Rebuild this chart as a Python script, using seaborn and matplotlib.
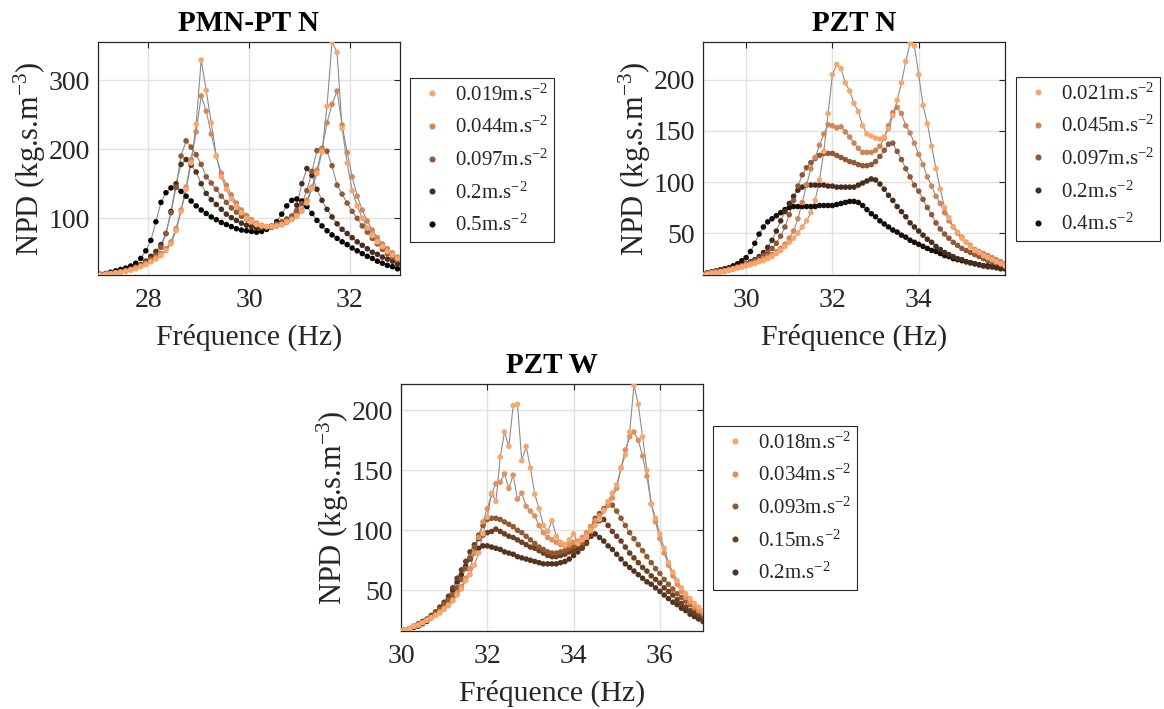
from __future__ import annotations

import matplotlib

matplotlib.use("Agg")
import matplotlib.pyplot as plt
import pandas as pd
import seaborn as sns

# ---- PMN-PT N ----------------------------------------------------------
FREQ_PMN_PT_N = [
    26.95, 27.05, 27.15, 27.25, 27.35, 27.45, 27.55, 27.65, 27.75, 27.85,
    27.95, 28.05, 28.15, 28.25, 28.35, 28.45, 28.55, 28.65, 28.75, 28.85,
    28.95, 29.05, 29.15, 29.25, 29.35, 29.45, 29.55, 29.65, 29.75, 29.85,
    29.95, 30.05, 30.15, 30.25, 30.35, 30.45, 30.55, 30.65, 30.75, 30.85,
    30.95, 31.05, 31.15, 31.25, 31.35, 31.45, 31.55, 31.65, 31.75, 31.85,
    31.95, 32.05, 32.15, 32.25, 32.35, 32.45, 32.55, 32.65, 32.75, 32.85,
    32.95, 33.05,
]
PMN_0019 = [
    17, 18, 19, 20, 21, 22, 23, 25, 27, 30,
    33, 37, 41, 46, 53, 63, 82, 110, 142, 180,
    236, 329, 285, 238, 190, 160, 142, 128, 117, 108,
    100, 95, 91, 89, 88, 88, 89, 91, 95, 98,
    103, 110, 122, 143, 165, 196, 262, 355, 340, 230,
    180, 140, 118, 100, 86, 75, 66, 59, 52, 47,
    42, 38,
]
PMN_0044 = [
    17, 18, 19, 20, 21, 22, 24, 26, 28, 31,
    34, 38, 43, 49, 56, 66, 85, 112, 145, 185,
    225, 277, 255, 222, 190, 165, 148, 134, 122, 112,
    104, 98, 93, 90, 88, 88, 89, 91, 94, 99,
    104, 112, 126, 145, 170, 200, 238, 265, 284, 235,
    195, 160, 132, 112, 96, 83, 72, 63, 56, 50,
    44, 39,
]
PMN_0097 = [
    18, 18, 19, 20, 21, 23, 24, 26, 29, 32,
    36, 41, 47, 58, 78, 108, 145, 190, 212, 203,
    192, 178, 160, 151, 142, 132, 123, 115, 109, 103,
    99, 95, 91, 88, 88, 89, 92, 95, 99, 103,
    111, 121, 140, 168, 198, 201, 197, 176, 148, 135,
    122, 110, 100, 89, 80, 71, 63, 55, 49, 44,
    40, 36,
]
PMN_02 = [
    18, 18, 19, 20, 22, 23, 25, 27, 30, 33,
    38, 45, 52, 62, 78, 110, 150, 178, 185, 177,
    167, 150, 136, 127, 120, 113, 106, 101, 97, 93,
    90, 88, 86, 86, 86, 87, 89, 91, 95, 103,
    119, 150, 172, 162, 142, 126, 113, 102, 92, 84,
    78, 72, 66, 61, 56, 51, 48, 44, 41, 38,
    34, 31,
]
PMN_05 = [
    18, 19, 20, 22, 24, 26, 28, 31, 35, 42,
    53, 68, 95, 123, 137, 144, 145, 139, 132, 125,
    118, 112, 107, 102, 98, 94, 91, 88, 85, 83,
    82, 81, 80, 81, 84, 88, 95, 106, 118, 126,
    128, 125, 117, 107, 97, 89, 82, 76, 71, 66,
    62, 57, 53, 49, 45, 42, 38, 35, 32, 30,
    27, 25,
]
LABELS_PMN_PT_N = ["0.019m.s", "0.044m.s", "0.097m.s", "0.2m.s", "0.5m.s"]

# ---- PZT N -------------------------------------------------------------
FREQ_PZT_N = [
    29.0, 29.1, 29.2, 29.3, 29.4, 29.5, 29.6, 29.7, 29.8, 29.9,
    30.0, 30.1, 30.2, 30.3, 30.4, 30.5, 30.6, 30.7, 30.8, 30.9,
    31.0, 31.1, 31.2, 31.3, 31.4, 31.5, 31.6, 31.7, 31.8, 31.9,
    32.0, 32.1, 32.2, 32.3, 32.4, 32.5, 32.6, 32.7, 32.8, 32.9,
    33.0, 33.1, 33.2, 33.3, 33.4, 33.5, 33.6, 33.7, 33.8, 33.9,
    34.0, 34.1, 34.2, 34.3, 34.4, 34.5, 34.6, 34.7, 34.8, 34.9,
    35.0, 35.1, 35.2, 35.3, 35.4, 35.5, 35.6, 35.7, 35.8, 35.9,
    36.0,
]
PZTN_0021 = [
    9, 10, 11, 11, 12, 13, 14, 15, 16, 17,
    18, 19, 20, 22, 23, 25, 27, 30, 33, 37,
    41, 45, 50, 56, 62, 70, 82, 102, 130, 167,
    205, 215, 211, 197, 189, 177, 169, 155, 147, 145,
    143, 142, 144, 152, 165, 180, 197, 218, 236, 233,
    205, 175, 157, 135, 113, 93, 75, 65, 56, 51,
    45, 41, 37, 33, 31, 28, 26, 24, 22, 20,
    18,
]
PZTN_0045 = [
    9, 10, 11, 12, 12, 13, 14, 15, 16, 17,
    19, 20, 21, 23, 25, 27, 29, 32, 35, 39,
    45, 52, 64, 80, 97, 113, 124, 136, 147, 156,
    155, 153, 154, 149, 144, 138, 133, 129, 129, 129,
    131, 135, 143, 155, 168, 173, 167, 155, 148, 138,
    127, 117, 105, 96, 86, 79, 70, 62, 56, 50,
    46, 41, 38, 34, 32, 30, 28, 26, 24, 22,
    20,
]
PZTN_0097 = [
    9, 10, 11, 12, 13, 13, 14, 15, 17, 18,
    20, 21, 23, 25, 28, 31, 35, 40, 47, 56,
    68, 82, 96, 107, 114, 119, 123, 126, 128, 128,
    128, 126, 124, 122, 120, 119, 117, 116, 116, 117,
    120, 125, 131, 137, 138, 130, 122, 113, 105, 97,
    91, 83, 75, 68, 60, 54, 49, 45, 41, 38,
    35, 33, 31, 29, 27, 25, 23, 22, 21, 20,
    19,
]
PZTN_02 = [
    9, 10, 11, 12, 13, 14, 15, 16, 17, 18,
    20, 22, 24, 27, 31, 36, 43, 52, 62, 71,
    79, 86, 92, 95, 97, 97, 97, 97, 97, 96,
    96, 95, 95, 95, 95, 95, 97, 99, 101, 103,
    102, 98, 93, 87, 82, 76, 71, 66, 60, 56,
    52, 48, 44, 41, 37, 34, 31, 29, 27, 25,
    24, 22, 21, 20, 19, 18, 17, 17, 16, 15,
    15,
]
PZTN_04 = [
    10, 11, 12, 13, 14, 15, 16, 18, 20, 23,
    26, 32, 40, 49, 56, 61, 64, 67, 70, 73,
    75, 76, 76, 76, 76, 76, 76, 77, 77, 77,
    77, 78, 79, 80, 81, 81, 80, 77, 73, 69,
    66, 62, 59, 56, 53, 51, 48, 46, 43, 41,
    39, 37, 35, 33, 32, 30, 28, 27, 25, 24,
    23, 22, 21, 20, 19, 18, 18, 17, 17, 16,
    16,
]
LABELS_PZT_N = ["0.021m.s", "0.045m.s", "0.097m.s", "0.2m.s", "0.4m.s"]

# ---- PZT W -------------------------------------------------------------
FREQ_PZT_W = [
    30.0, 30.1, 30.2, 30.3, 30.4, 30.5, 30.6, 30.7, 30.8, 30.9,
    31.0, 31.1, 31.2, 31.3, 31.4, 31.5, 31.6, 31.7, 31.8, 31.9,
    32.0, 32.1, 32.2, 32.3, 32.4, 32.5, 32.6, 32.7, 32.8, 32.9,
    33.0, 33.1, 33.2, 33.3, 33.4, 33.5, 33.6, 33.7, 33.8, 33.9,
    34.0, 34.1, 34.2, 34.3, 34.4, 34.5, 34.6, 34.7, 34.8, 34.9,
    35.0, 35.1, 35.2, 35.3, 35.4, 35.5, 35.6, 35.7, 35.8, 35.9,
    36.0, 36.1, 36.2, 36.3, 36.4, 36.5, 36.6, 36.7, 36.8, 36.9,
    37.0,
]
PZTW_0018 = [
    16, 17, 18, 20, 21, 23, 25, 27, 29, 31,
    34, 37, 41, 46, 51, 58, 63, 71, 81, 97,
    111, 131, 124, 161, 182, 170, 204, 205, 158, 170,
    152, 130, 118, 104, 99, 108, 95, 90, 88, 92,
    97, 89, 92, 95, 100, 104, 109, 116, 124, 131,
    138, 152, 163, 182, 221, 205, 178, 150, 122, 110,
    97, 85, 73, 65, 58, 52, 47, 43, 39, 36,
    33,
]
PZTW_0034 = [
    16, 17, 18, 20, 21, 23, 25, 27, 29, 32,
    35, 38, 42, 47, 53, 60, 68, 81, 94, 107,
    118, 130, 139, 140, 147, 135, 146, 126, 131, 120,
    116, 112, 104, 98, 94, 92, 90, 88, 87, 88,
    90, 91, 94, 98, 103, 108, 112, 117, 121, 127,
    135, 152, 167, 178, 182, 175, 162, 145, 122, 107,
    93, 81, 71, 62, 55, 49, 44, 40, 36, 33,
    31,
]
PZTW_0093 = [
    16, 17, 18, 20, 21, 23, 25, 28, 31, 34,
    38, 42, 46, 52, 59, 68, 77, 86, 96, 104,
    109, 110, 110, 109, 107, 105, 103, 100, 98, 95,
    92, 89, 86, 84, 82, 81, 81, 82, 83, 85,
    87, 88, 90, 95, 103, 110, 114, 118, 121, 121,
    116, 110, 104, 98, 93, 88, 83, 78, 73, 68,
    64, 59, 55, 51, 47, 44, 41, 38, 35, 32,
    29,
]
PZTW_015 = [
    16, 17, 18, 20, 22, 24, 26, 29, 32, 36,
    40, 45, 52, 60, 67, 74, 82, 88, 93, 96,
    98, 99, 101, 99, 97, 95, 94, 92, 90, 88,
    86, 85, 83, 81, 79, 78, 78, 79, 80, 82,
    83, 85, 86, 89, 95, 107, 108, 109, 104, 99,
    95, 91, 86, 81, 77, 73, 69, 66, 62, 59,
    56, 52, 49, 46, 42, 39, 36, 33, 31, 29,
    26,
]
PZTW_02 = [
    16, 17, 18, 19, 20, 22, 24, 27, 30, 34,
    38, 43, 50, 57, 63, 70, 76, 81, 85, 87,
    87, 86, 85, 84, 82, 81, 80, 78, 77, 76,
    75, 74, 73, 72, 72, 72, 72, 73, 74, 76,
    79, 82, 85, 90, 95, 97, 94, 91, 87, 84,
    80, 76, 72, 69, 66, 63, 60, 57, 55, 52,
    49, 46, 43, 40, 38, 35, 33, 30, 28, 26,
    24,
]
LABELS_PZT_W = ["0.018m.s", "0.034m.s", "0.093m.s", "0.15m.s", "0.2m.s"]

COLORS_PMN_PT_N = ["#F9A66C", "#D4875A", "#935836", "#4B2E1D", "#050302"]
COLORS_PZT_N = ["#F9A66C", "#D08557", "#8F5837", "#4A2C1C", "#150D08"]
COLORS_PZT_W = ["#F9A66C", "#E0915E", "#94592F", "#6B3F22", "#55321D"]

INK = "#262626"
SUP2 = r"$^{\mathregular{-2}}$"


def _long_frame(freq: list[float], series: list[list[float]], labels: list[str]) -> pd.DataFrame:
    frames = [
        pd.DataFrame({"freq": freq, "npd": values, "accel": label})
        for values, label in zip(series, labels)
    ]
    # darkest first so the light dots sit on top, as in the original
    return pd.concat(frames[::-1], ignore_index=True)


def draw_panel(ax, title, freq, series, labels, colors, xlim, ylim, xticks, yticks, anchor) -> None:
    labels = [lab + SUP2 for lab in labels]
    data = _long_frame(freq, series, labels)
    sns.lineplot(
        data=data, x="freq", y="npd", units="accel", estimator=None, sort=False,
        color="#8c8c8c", linewidth=0.8, legend=False, ax=ax, zorder=2,
    )
    sns.scatterplot(
        data=data, x="freq", y="npd", hue="accel", hue_order=labels,
        palette=dict(zip(labels, colors)), s=16, linewidth=0, ax=ax, zorder=3,
    )
    ax.set_xlim(*xlim)
    ax.set_ylim(*ylim)
    ax.set_xticks(xticks)
    ax.set_yticks(yticks)
    ax.grid(True, color="#e2e2e2", linewidth=1.0)
    ax.set_axisbelow(True)
    ax.tick_params(direction="in", length=4, width=0.8, top=True, right=True,
                   colors=INK, labelsize=20)
    ax.tick_params(axis="x", pad=9.5)
    ax.tick_params(axis="y", pad=6)
    for spine in ax.spines.values():
        spine.set_color(INK)
        spine.set_linewidth(0.9)
    ax.set_title(title, fontsize=21, fontweight="bold", pad=8, color="black")
    ax.set_xlabel("Fréquence (Hz)", fontsize=21.5, color=INK, labelpad=7.5)
    ax.set_ylabel(r"NPD (kg.s.m$^{\mathregular{-3}}$)", fontsize=22, color=INK, labelpad=0)

    handles, labs = ax.get_legend_handles_labels()
    leg = ax.legend(
        handles, labs, loc="upper left", bbox_to_anchor=anchor, frameon=True,
        fancybox=False, edgecolor=INK, framealpha=1, fontsize=15, markerscale=1.1,
        handlelength=1.55, handletextpad=0.3, borderpad=0.3, labelspacing=0.55,
        borderaxespad=0,
    )
    leg.get_frame().set_linewidth(0.8)


def main() -> None:
    sns.set_style("white")
    plt.rcParams["font.family"] = ["Liberation Serif", "DejaVu Serif"]
    plt.rcParams["mathtext.default"] = "regular"

    fig = plt.figure(figsize=(11.64, 7.09), dpi=100)
    ax1 = fig.add_axes([98 / 1164, 1 - 275 / 709, 302 / 1164, 233 / 709])
    ax2 = fig.add_axes([703 / 1164, 1 - 275 / 709, 302 / 1164, 233 / 709])
    ax3 = fig.add_axes([401 / 1164, 1 - 631 / 709, 302 / 1164, 247 / 709])

    draw_panel(ax1, "PMN-PT N", FREQ_PMN_PT_N,
               [PMN_0019, PMN_0044, PMN_0097, PMN_02, PMN_05],
               LABELS_PMN_PT_N, COLORS_PMN_PT_N,
               (27, 33), (18, 355), [28, 30, 32], [100, 200, 300], (1.033, 0.845))
    draw_panel(ax2, "PZT N", FREQ_PZT_N,
               [PZTN_0021, PZTN_0045, PZTN_0097, PZTN_02, PZTN_04],
               LABELS_PZT_N, COLORS_PZT_N,
               (29, 36), (9, 237), [30, 32, 34], [50, 100, 150, 200], (1.036, 0.850))
    draw_panel(ax3, "PZT W", FREQ_PZT_W,
               [PZTW_0018, PZTW_0034, PZTW_0093, PZTW_015, PZTW_02],
               LABELS_PZT_W, COLORS_PZT_W,
               (30, 37), (16, 222), [30, 32, 34, 36], [50, 100, 150, 200], (1.033, 0.830))

    fig.savefig("out.png", dpi=100)
    plt.close(fig)


if __name__ == "__main__":
    main()
